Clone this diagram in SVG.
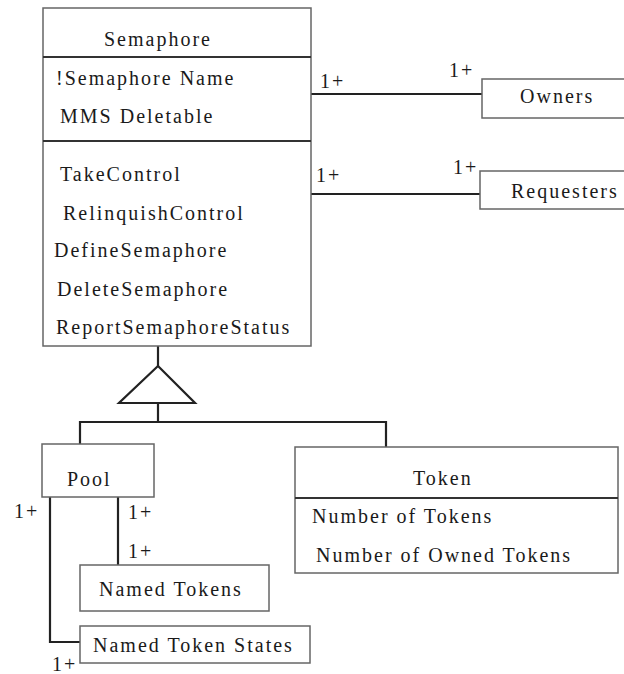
<svg xmlns="http://www.w3.org/2000/svg" width="624" height="674" viewBox="0 0 624 674">
<style>
text{font-family:'Liberation Serif','Times New Roman',serif;font-size:20px;letter-spacing:2px;fill:#1a1a1a}
.box{fill:#fff;stroke:#666;stroke-width:1.5}
.div{stroke:#333;stroke-width:2.2}
.conn{fill:none;stroke:#222;stroke-width:2.2}
</style>
<rect width="624" height="674" fill="#fff"/>
<g id="connectors">
<path class="conn" d="M310,94 H482"/>
<path class="conn" d="M310,194 H480"/>
<path class="conn" d="M158,346 V366"/>
<path class="conn" d="M158,403 V422 M80,444 V422 H386 V447"/>
<path class="conn" d="M118,497 V565"/>
<path class="conn" d="M50,497 V642 H80"/>
<polygon points="158,366 119,403 195,403" fill="#fff" stroke="#222" stroke-width="2.2"/>
<text x="320" y="88">1+</text>
<text x="449" y="77">1+</text>
<text x="316" y="182">1+</text>
<text x="453" y="174">1+</text>
<text x="14" y="518">1+</text>
<text x="128" y="519">1+</text>
<text x="128" y="558">1+</text>
<text x="52" y="671">1+</text>
</g>
<g id="semaphore">
<rect class="box" x="43" y="8" width="268" height="338"/>
<line class="div" x1="43" y1="57" x2="311" y2="57"/>
<line class="div" x1="43" y1="141" x2="311" y2="141"/>
<text x="104" y="46">Semaphore</text>
<text x="56" y="85">!Semaphore Name</text>
<text x="60" y="123">MMS Deletable</text>
<text x="60" y="181">TakeControl</text>
<text x="63" y="220">RelinquishControl</text>
<text x="54" y="257">DefineSemaphore</text>
<text x="57" y="296">DeleteSemaphore</text>
<text x="56" y="334">ReportSemaphoreStatus</text>
</g>
<g id="owners">
<rect class="box" x="482" y="79" width="150" height="39"/>
<text x="520" y="103">Owners</text>
</g>
<g id="requesters">
<rect class="box" x="480" y="171" width="150" height="38"/>
<text x="511" y="198">Requesters</text>
</g>
<g id="pool">
<rect class="box" x="42" y="444" width="112" height="53"/>
<text x="67" y="486">Pool</text>
</g>
<g id="token">
<rect class="box" x="295" y="447" width="323" height="126"/>
<line class="div" x1="295" y1="498" x2="618" y2="498"/>
<text x="413" y="485">Token</text>
<text x="312" y="523">Number of Tokens</text>
<text x="316" y="562">Number of Owned Tokens</text>
</g>
<g id="named-tokens">
<rect class="box" x="80" y="565" width="189" height="46"/>
<text x="99" y="596">Named Tokens</text>
</g>
<g id="named-token-states">
<rect class="box" x="80" y="626" width="230" height="37"/>
<text x="93" y="652">Named Token States</text>
</g>
</svg>
